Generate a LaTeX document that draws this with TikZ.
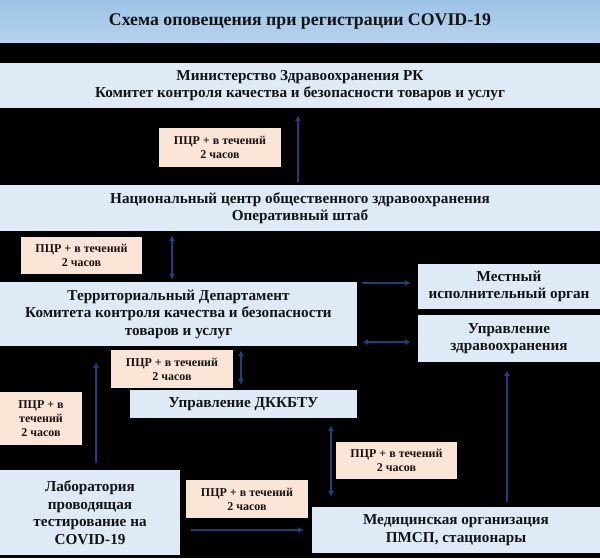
\documentclass[tikz,border=0pt]{standalone}
\usepackage{fontspec}
\setmainfont{Liberation Serif}
\usetikzlibrary{positioning, arrows.meta}

\definecolor{shapka}{HTML}{9DC3E6}
\definecolor{shapkaniz}{HTML}{B7D3EE}
\definecolor{blokfon}{HTML}{DEEAF6}
\definecolor{metkafon}{HTML}{FBE5D6}
\definecolor{strelka}{HTML}{203F7A}
\definecolor{tekst}{HTML}{141414}

\begin{document}
\begin{tikzpicture}[x=1pt,y=-1pt,every node/.style={inner sep=0pt,outer sep=0pt,text=tekst},
    blok/.style={fill=blokfon,align=center,font=\fontsize{15.2}{17.5}\selectfont\bfseries},
    metka/.style={fill=metkafon,align=center,font=\fontsize{12}{14}\selectfont\bfseries},
    strel/.style={draw=strelka,line width=2.4pt,-{Latex[length=6pt,width=6pt]}},
    dvstrel/.style={draw=strelka,line width=2.4pt,{Latex[length=6pt,width=6pt]}-{Latex[length=6pt,width=6pt]}}]
        % фон
        \fill[black] (0,0) rectangle (600,558);
        \useasboundingbox (0,0) rectangle (600,558);
        % заголовок
        \node[top color=shapka,bottom color=shapkaniz,minimum width=600pt,minimum height=42pt,
              font=\fontsize{17.8}{20}\selectfont\bfseries] (shapka) at (300,21) {Схема оповещения при регистрации COVID-19};
        % блоки
        \node[blok,minimum width=600pt,minimum height=45pt] (minz) at (300,85.5) {Министерство Здравоохранения РК\\Комитет контроля качества и безопасности товаров и услуг};
        \node[blok,minimum width=600pt,minimum height=46pt] (nac) at (300,208) {Национальный центр общественного здравоохранения\\Оперативный штаб};
        \node[blok,minimum width=357pt,minimum height=64pt] (terr) at (178.5,314) {Территориальный Департамент\\Комитета контроля качества и безопасности\\товаров и услуг};
        \node[blok,minimum width=182pt,minimum height=45pt] (mest) at (509,286.5) {Местный\\исполнительный орган};
        \node[blok,minimum width=182pt,minimum height=47pt] (uprz) at (509,338.5) {Управление\\здравоохранения};
        \node[blok,minimum width=227pt,minimum height=28pt] (dkkbtu) at (243.5,404) {Управление ДККБТУ};
        \node[blok,minimum width=180pt,minimum height=85pt] (lab) at (90,512.5) {Лаборатория\\проводящая\\тестирование на\\COVID-19};
        \node[blok,minimum width=288pt,minimum height=46pt] (med) at (456,530) {Медицинская организация\\ПМСП, стационары};
        % метки ПЦР
        \node[metka,minimum width=122pt,minimum height=39pt] (pcr-1) at (220,147.5) {ПЦР + в течений\\2 часов};
        \node[metka,minimum width=121pt,minimum height=37pt] (pcr-2) at (81.5,255.5) {ПЦР + в течений\\2 часов};
        \node[metka,minimum width=122pt,minimum height=38pt] (pcr-3) at (172,369) {ПЦР + в течений\\2 часов};
        \node[metka,minimum width=82pt,minimum height=53pt] (pcr-4) at (41,418.5) {ПЦР + в\\течений\\2 часов};
        \node[metka,minimum width=121pt,minimum height=37pt] (pcr-5) at (396.5,460.5) {ПЦР + в течений\\2 часов};
        \node[metka,minimum width=122pt,minimum height=38pt] (pcr-6) at (247,499) {ПЦР + в течений\\2 часов};
        % стрелки
        \draw[strel,shorten <=3pt,shorten >=7pt] ([xshift=-2pt]nac.north) -- ([xshift=-2pt]minz.south);
        \draw[dvstrel,shorten <=2pt,shorten >=4pt] ([xshift=-6.5pt]terr.north) -- ([xshift=-6.5pt]terr.north |- nac.south);
        \draw[strel,shorten <=5pt,shorten >=7pt] ([yshift=3.5pt]terr.east |- mest.west) -- ([yshift=3.5pt]mest.west);
        \draw[dvstrel,shorten <=5pt,shorten >=7pt] ([yshift=-3.5pt]terr.east |- uprz.west) -- ([yshift=-3.5pt]uprz.west);
        \draw[dvstrel,shorten <=5pt,shorten >=4pt] ([xshift=-2.5pt]dkkbtu.north) -- ([xshift=-2.5pt]dkkbtu.north |- terr.south);
        \draw[strel,shorten <=7pt,shorten >=16pt] ([xshift=6pt]lab.north) -- ([xshift=6pt]lab.north |- terr.south);
        \draw[dvstrel,shorten <=10pt,shorten >=7pt] ([xshift=19pt]med.north west) -- ([xshift=19pt]med.north west |- dkkbtu.south);
        \draw[strel,shorten <=11pt,shorten >=8pt] (lab.east |- med.west) -- (med.west);
        \draw[strel,shorten <=5pt,shorten >=8pt] ([xshift=-2pt]uprz.south |- med.north) -- ([xshift=-2pt]uprz.south);
\end{tikzpicture}
\end{document}
